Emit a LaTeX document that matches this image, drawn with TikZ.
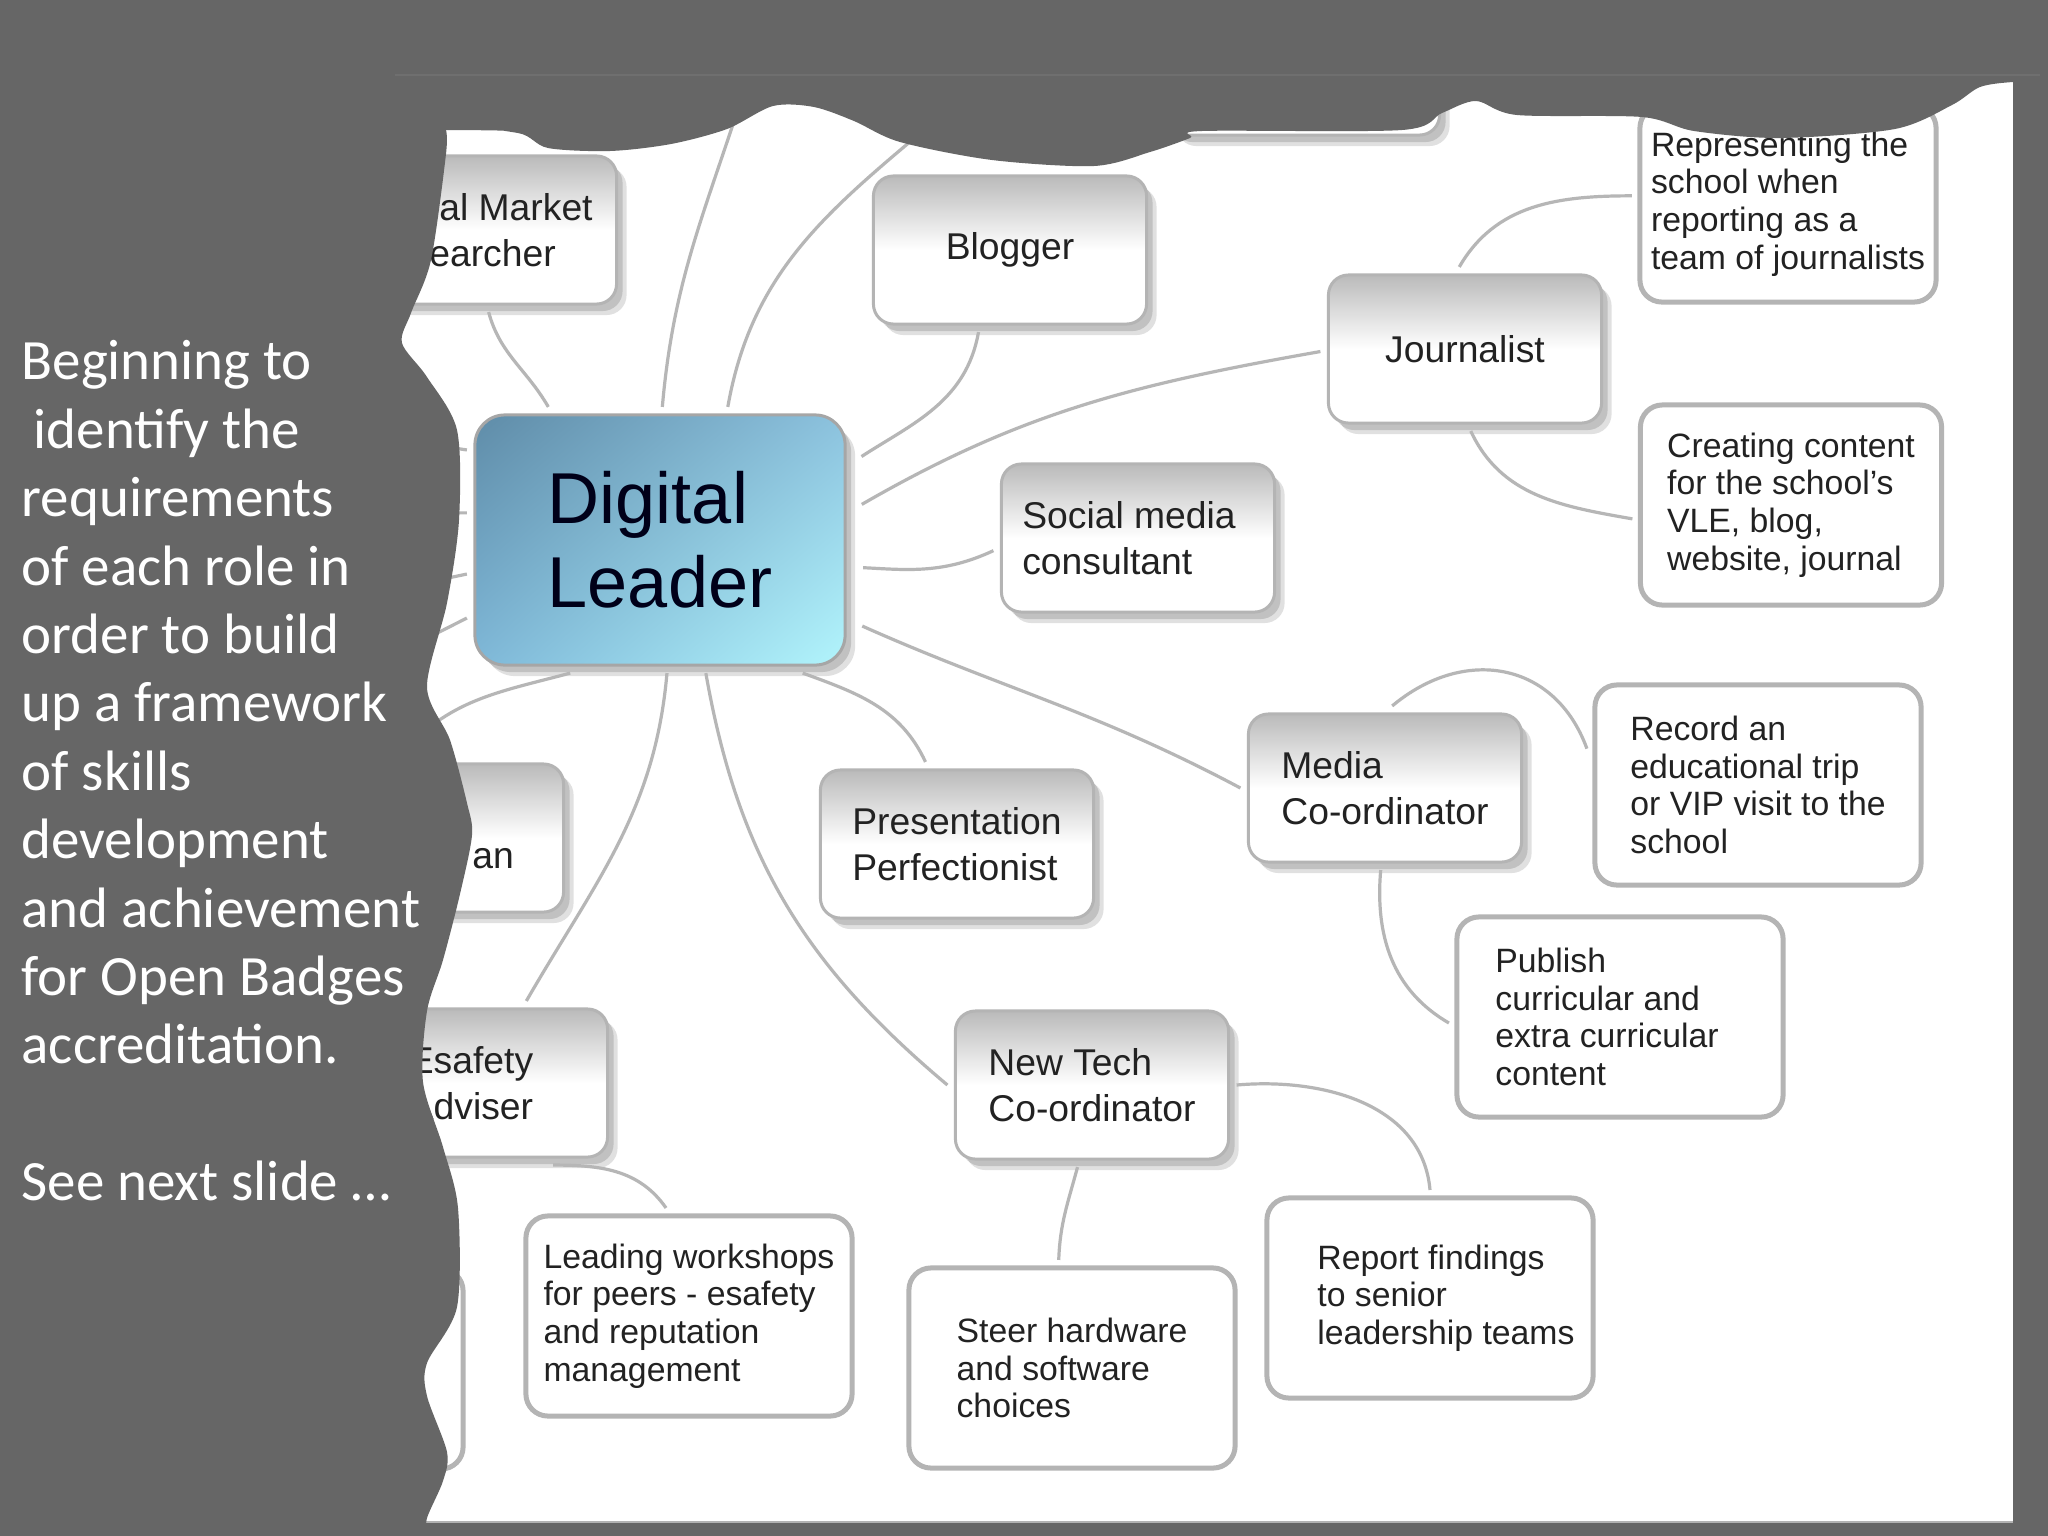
\documentclass[tikz,border=0pt]{standalone}
\usepackage{fontspec}
\setmainfont{Liberation Sans}
\newfontfamily\slidefont{Carlito}
\usetikzlibrary{shadows,shadings}
\definecolor{slidegray}{HTML}{666666}
\definecolor{linegray}{HTML}{B6B6B6}
\definecolor{edgegray}{HTML}{B4B4B4}
\definecolor{inkgray}{HTML}{222222}
\definecolor{leadUL}{HTML}{5F8CA8}
\definecolor{leadUR}{HTML}{8CC2DE}
\definecolor{leadLL}{HTML}{7FB8D8}
\definecolor{leadLR}{HTML}{B2F5FC}
\tikzset{
	softshadow/.style={drop shadow={shadow xshift=0.1cm, shadow yshift=-0.11cm, fill=black!60, opacity=.2},
		drop shadow={shadow xshift=0.06cm, shadow yshift=-0.07cm, fill=black!60, opacity=.25}},
	rolebox/.style={draw=edgegray, line width=0.03cm, rounded corners=0.2cm, top color=black!27, bottom color=white, middle color=white,
		softshadow, minimum width=2.73cm, minimum height=1.48cm, outer sep=0.08cm, inner sep=0pt, align=left, text=inkgray,
		font=\fontsize{10.6}{12.9}\selectfont},
	roletext/.style={inner sep=0pt, align=left, text=inkgray, font=\fontsize{10.6}{12.9}\selectfont},
	taskbox/.style={draw=edgegray, line width=0.05cm, rounded corners=0.22cm, fill=white,
		minimum width=3.26cm, minimum height=2cm, outer sep=0.08cm, inner sep=0pt, align=left, text=inkgray,
		font=\fontsize{9.6}{10.7}\selectfont},
	leadbox/.style={draw=black!35, line width=0.03cm, rounded corners=0.3cm, shading=bilinear interpolation,
		upper left=leadUL, upper right=leadUR, lower left=leadLL, lower right=leadLR,
		softshadow, minimum width=3.7cm, minimum height=2.5cm, outer sep=0.08cm, inner sep=0pt, align=left, text=black!90!blue,
		font=\fontsize{20.5}{23.8}\selectfont},
	link/.style={draw=linegray, line width=0.032cm},
}

\begin{document}
\begin{tikzpicture}[x=0.01cm, y=-0.01cm]
	\useasboundingbox (0,0) rectangle (2048,1536);
	\fill[slidegray] (0,0) rectangle (2048,1536);
	\fill[white] (395,75) rectangle (2013,1521);
	\draw[black!30, line width=0.02cm] (395,1522) -- (2013,1522);
	% free ends under the torn edges
	\coordinate (topone) at (741,100);
	\coordinate (toptwo) at (930,125);
	\coordinate (stubone) at (400,440);
	\coordinate (stubtwo) at (400,513);
	\coordinate (stubthree) at (400,588);
	\coordinate (stubfour) at (400,652);
	% boxes
	\node[leadbox] (leader) at (660,540) {Digital\\Leader};
	\node[rolebox] (top) at (1303,61) {};
	\node[rolebox] (market) at (480,230) {};
	\node[rolebox] (blogger) at (1010,250) {Blogger};
	\node[rolebox] (journalist) at (1465,349) {Journalist};
	\node[rolebox] (social) at (1138,538) {Social media\hspace*{0.18cm}\mbox{}\\consultant};
	\node[rolebox] (presentation) at (957,844) {Presentation\\Perfectionist};
	\node[rolebox] (media) at (1385,788) {Media\\Co-ordinator};
	\node[rolebox] (newtech) at (1092,1085) {New Tech\\Co-ordinator};
	\node[rolebox] (an) at (427,838) {};
	\node[rolebox] (esafety) at (471,1083) {Esafety\\Adviser};
	\node[taskbox, minimum width=2.96cm, minimum height=1.96cm] (represent) at (1788,204) {Representing the\\school when\\reporting as a\\team of journalists};
	\node[taskbox, minimum width=3.01cm] (creating) at (1791,505) {Creating content\\for the school's\\VLE, blog,\\website, journal};
	\node[taskbox] (record) at (1758,785) {Record an\\educational trip\\or VIP visit to the\\school};
	\node[taskbox] (publish) at (1620,1017) {Publish\\curricular and\\extra curricular\hspace*{0.26cm}\mbox{}\\content};
	\node[taskbox] (report) at (1430,1298) {\hspace*{0.32cm}Report findings\\\hspace*{0.32cm}to senior\\\hspace*{0.32cm}leadership teams};
	\node[taskbox] (steer) at (1072,1368) {Steer hardware\\and software\\choices};
	\node[taskbox] (leading) at (689,1316) {Leading workshops\\for peers - esafety\\and reputation\\management};
	\node[taskbox] (cutoff) at (300,1369) {};
	\node[roletext] (markettext) at (511,230) {\hspace*{0.1cm}al Market\\earcher};
	\node[roletext] (antext) at (493,859) {an};
	% links out of the centre box
	\draw[link] (market.-84) to[out=-75, in=120] (leader.130.5);
	\draw[link] (leader.89) to[out=85, in=-108] (topone);
	\draw[link] (leader.63) to[out=80, in=-140] (toptwo);
	\draw[link, shorten >=0.1cm] (blogger.-111.7) to[out=-100, in=33] (leader.22.3);
	\draw[link, shorten <=0.1cm] (leader.9.5) to[out=30, in=190] (journalist.181);
	\draw[link, shorten <=0.1cm] (leader.-8.9) to[out=-3, in=205] (social.185.7);
	\draw[link, shorten <=0.1cm] (leader.-23.8) to[out=-24, in=152] (media.180);
	\draw[link] (leader.-43.6) to[out=-20, in=115] (presentation.111.6);
	\draw[link] (leader.-71.7) to[out=-80, in=140] (newtech.180);
	\draw[link] (leader.-87.3) to[out=-95, in=60] (esafety.56);
	\draw[link] (leader.-124) to[out=195, in=50] (an.108);
	\draw[link] (leader.155) -- (stubone);
	\draw[link] (leader.172.5) -- (stubtwo);
	\draw[link] (leader.190.7) -- (stubthree);
	\draw[link] (leader.202.7) -- (stubfour);
	% links to the tasks
	\draw[link] (journalist.94.5) to[out=60, in=180] (represent.177.4);
	\draw[link] (journalist.-86) to[out=-65, in=170] (creating.185);
	\draw[link] (media.85.8) to[out=40, in=110, looseness=1.2] (record.168.4);
	\draw[link] (media.-93.8) to[out=-95, in=150] (publish.182.6);
	\draw[link] (newtech.0) to[out=5, in=95] (report.90);
	\draw[link] (newtech.-100) to[out=-105, in=88] (steer.97);
	\draw[link] (esafety.-45.6) to[out=0, in=125] (leading.102.8);
	% torn edges of the slide
	\fill[slidegray] (0,0) -- plot[smooth, tension=.5] coordinates {(0,130) (446,130) (518,133) (548,148) (610,151) (671,144) (727,129) (773,106) (814,107) (854,121) (900,142) (992,160) (1094,166) (1150,152) (1190,138) (1202,131) (1402,130) (1442,113) (1476,101) (1517,115) (1642,117) (1694,131) (1780,138) (1895,129) (1952,105) (1980,87) (2013,82) (2048,82)} -- (2048,0) -- cycle;
	\fill[slidegray] (0,0) -- (446,0) -- plot[smooth, tension=.5] coordinates {(446,130) (446,154) (431,260) (411,313) (402,343) (427,377) (457,430) (459,520) (447,603) (427,687) (450,740) (467,803) (472,835) (460,894) (443,960) (427,1011) (423,1082) (443,1147) (458,1208) (457,1307) (427,1363) (427,1396) (447,1452) (443,1481) (427,1518) (427,1536)} -- (0,1536) -- cycle;
	\draw[white!6!slidegray, line width=0.02cm] (395,75) -- (2040,75);
	% text on the slide
	\node[anchor=north west, inner sep=0pt, align=left, text=white, font=\slidefont\fontsize{16.2}{19.45}\selectfont] (slidetext) at (21,340) {Beginning to\\\hspace*{0.12cm}identify the\\requirements\\of each role in\\order to build\\up a framework\\of skills\\development\\and achievement\\for Open Badges\\accreditation.\\[19.45pt]See next slide …};
\end{tikzpicture}
\end{document}
